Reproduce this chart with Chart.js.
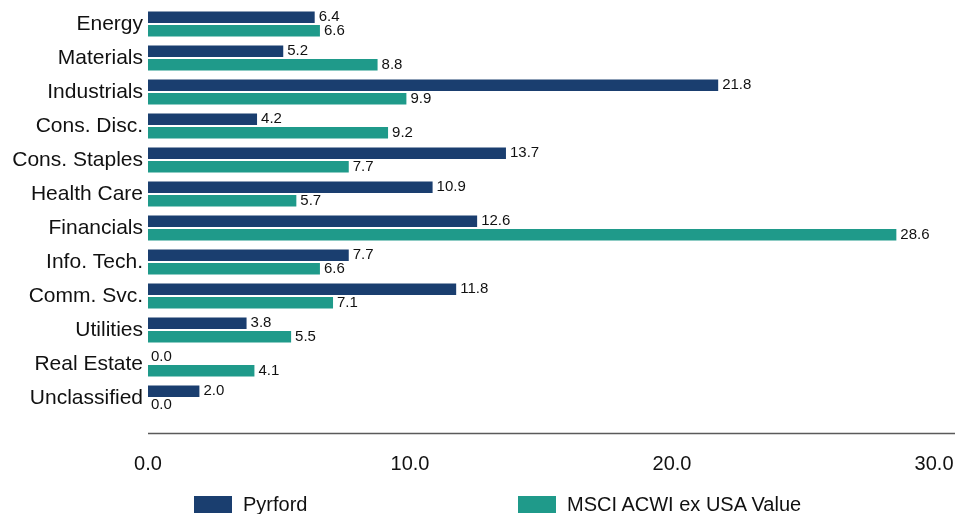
<!DOCTYPE html>
<html>
<head>
<meta charset="utf-8">
<script src="https://cdn.jsdelivr.net/npm/chart.js@4/dist/chart.umd.min.js"></script>
<style>
  html, body { margin: 0; padding: 0; background: #fff; }
  #wrap { position: relative; width: 955px; height: 514px; }
  .leg { position: absolute; top: 492px; height: 24px; display: flex; align-items: center;
         font-family: "Liberation Sans", Arial, sans-serif; font-size: 20px; color: #111; }
  .leg span { display: inline-block; width: 38px; height: 17px; margin-right: 11px; }
</style>
</head>
<body>
<div id="wrap">
  <canvas id="chart" width="955" height="514"></canvas>
  <div class="leg" style="left:194px"><span style="background:#1a3e6f"></span>Pyrford</div>
  <div class="leg" style="left:518px"><span style="background:#1f9a8a"></span>MSCI ACWI ex USA Value</div>
</div>
<script>
const sectors = ["Energy", "Materials", "Industrials", "Cons. Disc.", "Cons. Staples", "Health Care",
  "Financials", "Info. Tech.", "Comm. Svc.", "Utilities", "Real Estate", "Unclassified"];
const pyrford = [6.4, 5.2, 21.8, 4.2, 13.7, 10.9, 12.6, 7.7, 11.8, 3.8, 0.0, 2.0];
const msci = [6.6, 8.8, 9.9, 9.2, 7.7, 5.7, 28.6, 6.6, 7.1, 5.5, 4.1, 0.0];
const xTicks = [0, 10, 20, 30];

const FONT = "'Liberation Sans', Arial, sans-serif";

// value labels at the end of each bar
const valueLabels = {
  id: "valueLabels",
  afterDatasetsDraw(chart) {
    const ctx = chart.ctx;
    ctx.save();
    ctx.font = "15px " + FONT;
    ctx.fillStyle = "#111";
    ctx.textAlign = "left";
    ctx.textBaseline = "middle";
    chart.data.datasets.forEach((ds, i) => {
      chart.getDatasetMeta(i).data.forEach((bar, j) => {
        ctx.fillText(ds.data[j].toFixed(1), bar.x + 3, bar.y);
      });
    });
    ctx.restore();
  }
};

// axis line sits a bit below the last category
const axisLine = {
  id: "axisLine",
  afterDraw(chart) {
    const ctx = chart.ctx;
    const y = chart.chartArea.bottom + 18.5;
    ctx.save();
    ctx.strokeStyle = "#5a5a5a";
    ctx.lineWidth = 1.5;
    ctx.beginPath();
    ctx.moveTo(chart.chartArea.left, y);
    ctx.lineTo(955, y);
    ctx.stroke();
    ctx.restore();
  }
};

new Chart(document.getElementById("chart"), {
  type: "bar",
  data: {
    labels: sectors,
    datasets: [
      { label: "Pyrford", data: pyrford, backgroundColor: "#1a3e6f", borderColor: "#ffffff", borderWidth: 1 },
      { label: "MSCI ACWI ex USA Value", data: msci, backgroundColor: "#1f9a8a", borderColor: "#ffffff", borderWidth: 1 }
    ]
  },
  options: {
    indexAxis: "y",
    responsive: false,
    animation: false,
    layout: { padding: { top: 7, right: 0, left: 0, bottom: 0 } },
    plugins: { legend: { display: false }, tooltip: { enabled: false } },
    datasets: { bar: { categoryPercentage: 0.8, barPercentage: 1.0 } },
    scales: {
      x: {
        min: 0, max: 30.8,
        grid: { display: false, drawTicks: false },
        border: { display: false },
        afterBuildTicks: (s) => { s.ticks = xTicks.map(v => ({ value: v })); },
        afterFit: (s) => { s.height = 99; s.paddingLeft = 0; s.paddingRight = 0; },
        ticks: {
          padding: 37,
          color: "#111",
          font: { family: FONT, size: 20 },
          callback: (v) => Number(v).toFixed(1)
        }
      },
      y: {
        grid: { display: false, drawTicks: false },
        border: { display: false },
        afterFit: (s) => { s.width = 148; s.paddingTop = 0; s.paddingBottom = 0; },
        ticks: {
          padding: 5,
          color: "#111",
          font: { family: FONT, size: 21 }
        }
      }
    }
  },
  plugins: [valueLabels, axisLine]
});
</script>
</body>
</html>
